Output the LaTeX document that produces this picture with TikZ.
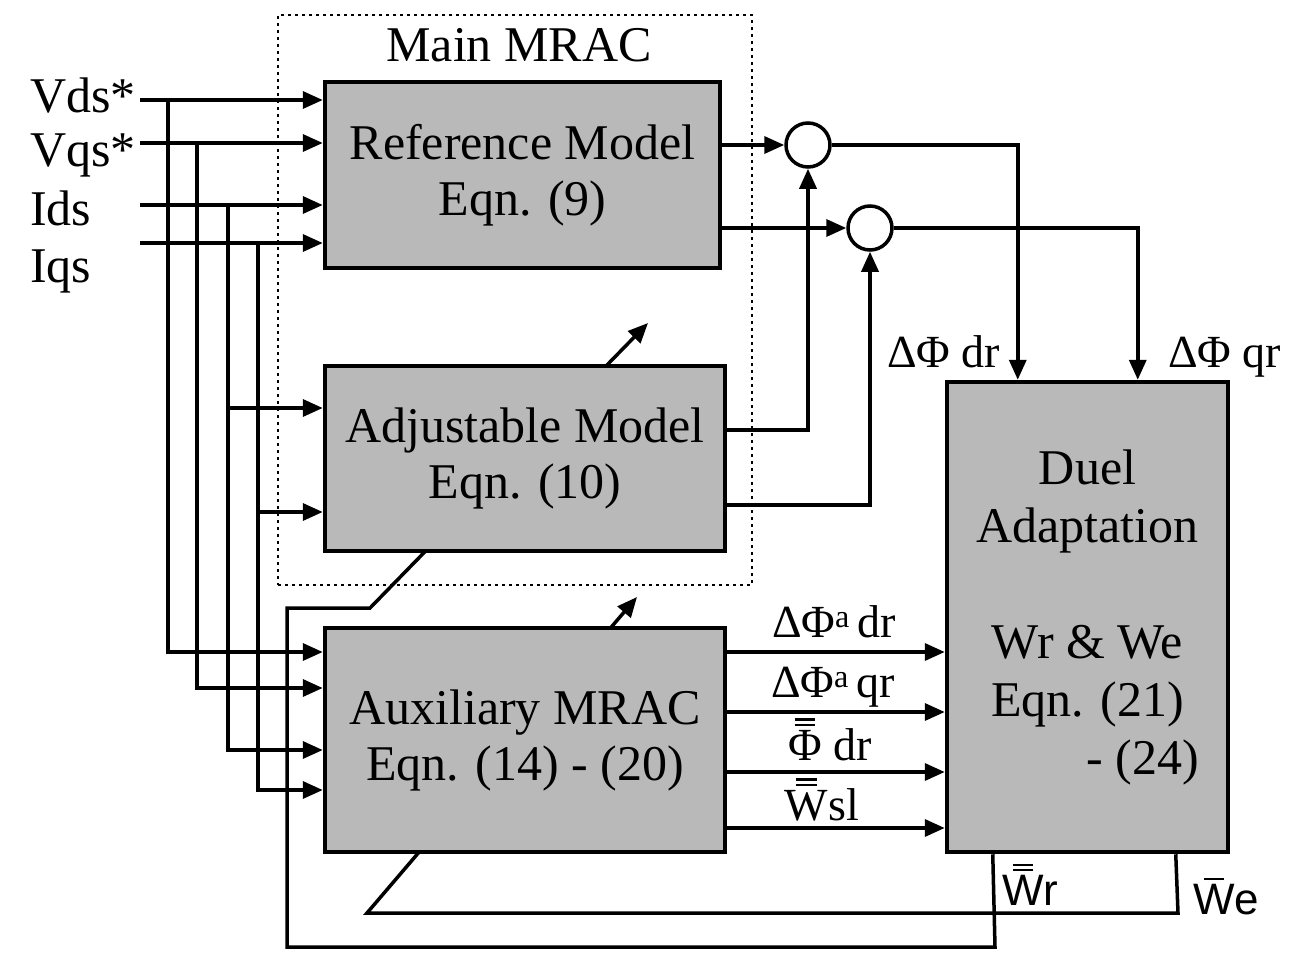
\documentclass[tikz,border=0pt]{standalone}
\usepackage{fontspec}
\setmainfont{Liberation Serif}
\newfontfamily\arialf{Liberation Sans}
\usetikzlibrary{arrows.meta,calc}
\pgfdeclarelayer{bg}
\pgfsetlayers{bg,main}
\newcommand\mydbar[1]{\leavevmode\vbox{\offinterlineskip\halign{\hfil##\hfil\cr\rule{0.45em}{0.05em}\cr\noalign{\kern0.07em}\rule{0.45em}{0.05em}\cr\noalign{\kern0.08em}#1\cr}}}
\newcommand\mysbar[1]{\leavevmode\vbox{\offinterlineskip\halign{\hfil##\hfil\cr\rule{0.45em}{0.05em}\cr\noalign{\kern0.08em}#1\cr}}}
\begin{document}
\begin{tikzpicture}[x=1pt,y=-1pt,
  box/.style={draw, line width=4.5pt, fill=gray!55, align=center, inner sep=0pt,
              font=\fontsize{50}{56}\selectfont},
  ln/.style={line width=3.5pt},
  arr/.style={line width=3.5pt, -{Triangle[length=20pt,width=17pt]}},
  sumj/.style={circle, draw, line width=3.5pt, minimum size=44pt, inner sep=0pt, fill=white},
  lbl/.style={inner sep=0pt, font=\fontsize{46}{50}\selectfont},
  inlbl/.style={inner sep=0pt, font=\fontsize{50}{56}\selectfont},
  sanslbl/.style={inner sep=0pt, font=\arialf\fontsize{44}{48}\selectfont}]
\useasboundingbox (0,0) rectangle (1308,953);
\begin{pgfonlayer}{bg}
\fill[white] (0,0) rectangle (1308,953);
\end{pgfonlayer}

% main MRAC dotted frame
\node[draw, line width=2pt, dash pattern=on 3pt off 4pt, minimum width=474pt, minimum height=570pt, inner sep=0pt] (mainbox) at (515,300) {};
\node[inlbl, anchor=base] (maintitle) at (519,61) {Main MRAC};

% blocks
\node[box, minimum width=395pt, minimum height=186pt] (ref) at (522.5,175) {Reference Model\\Eqn. (9)};
\node[box, minimum width=400pt, minimum height=185pt] (adj) at (525,458.5) {Adjustable Model\\Eqn. (10)};
\node[box, minimum width=400pt, minimum height=224pt] (aux) at (525,740) {Auxiliary MRAC\\Eqn. (14) - (20)};
\node[box, minimum width=281pt, minimum height=470pt, font=\fontsize{50}{58}\selectfont] (duel) at (1087.5,617)
  {Duel\\Adaptation\\[58pt]Wr \& We\\Eqn. (21)\\\hspace*{2.2em}- (24)};

% summing junctions
\node[sumj] (s1) at (808,145) {};
\node[sumj] (s2) at (870,228) {};

% input labels
\node[inlbl, anchor=base west] (lvds) at (30,112) {Vds*};
\node[inlbl, anchor=base west] (lvqs) at (30,166) {Vqs*};
\node[inlbl, anchor=base west] (lids) at (30,225) {Ids};
\node[inlbl, anchor=base west] (liqs) at (30,282) {Iqs};

\coordinate (i1) at (140,100);
\coordinate (i2) at (140,143);
\coordinate (i3) at (140,205);
\coordinate (i4) at (140,243);
\coordinate (b1) at (168,100);
\coordinate (b2) at (197,143);
\coordinate (b3) at (228,205);
\coordinate (b4) at (258,243);

% inputs to reference model
\draw[arr] (i1) -- (ref.west |- i1);
\draw[arr] (i2) -- (ref.west |- i2);
\draw[arr] (i3) -- (ref.west |- i3);
\draw[arr] (i4) -- (ref.west |- i4);
% branches to auxiliary MRAC
\draw[arr] (b1) |- (aux.west |- 0,652);
\draw[arr] (b2) |- (aux.west |- 0,688);
\draw[arr] (b3) |- (aux.west |- 0,750);
\draw[arr] (b4) |- (aux.west |- 0,790);
% branches to adjustable model
\draw[arr] (b3) |- (adj.west |- 0,408);
\draw[arr] (b4) |- (adj.west |- 0,512);

% reference model to junctions
\draw[arr] (ref.east |- s1) -- (s1.west);
\draw[arr] (ref.east |- s2) -- (s2.west);
% adjustable model to junctions
\draw[arr] (adj.east |- 0,430) -| (s1.south);
\draw[arr] (adj.east |- 0,505) -| (s2.south);
% junctions to duel adaptation
\draw[arr] (s1.east) -| ($(duel.north west)+(73,0)$);
\draw[arr] (s2.east) -| ($(duel.north west)+(193,0)$);
\node[lbl, anchor=base west] (ldr) at (887,367) {ΔΦ dr};
\node[lbl, anchor=base west] (lqr) at (1168,367) {ΔΦ qr};

% auxiliary outputs
\draw[arr] (aux.east |- 0,652) -- (duel.west |- 0,652);
\draw[arr] (aux.east |- 0,712) -- (duel.west |- 0,712);
\draw[arr] (aux.east |- 0,772) -- (duel.west |- 0,772);
\draw[arr] (aux.east |- 0,828) -- (duel.west |- 0,828);
\node[lbl, anchor=base] (la1) at (834,637) {ΔΦ\textsuperscript{a}\,dr};
\node[lbl, anchor=base] (la2) at (833,697) {ΔΦ\textsuperscript{a}\,qr};
\node[lbl, anchor=base] (la3) at (830,760) {\mydbar{Φ} dr};
\node[lbl, anchor=base] (la4) at (822,820) {\mydbar{W}sl};

% feedback paths (behind the blocks)
\coordinate (wr0) at ($(duel.south west)+(48,0)$);
\coordinate (we0) at ($(duel.south west)+(231,0)$);
\coordinate (wrtip) at (648,323);
\coordinate (wetip) at (637,597);
\begin{pgfonlayer}{bg}
\draw[arr] (wr0) -- (995,947) -- (287,947) -- (287,608) -- (370,608) -- (wrtip);
\draw[arr] (we0) -- (1178,913) -- (367,913) -- (wetip);
\end{pgfonlayer}
\node[sanslbl, anchor=base west] (lwr) at (1002,905) {\mydbar{W}r};
\node[sanslbl, anchor=base west] (lwe) at (1193,914) {\mysbar{W}e};
\end{tikzpicture}
\end{document}
